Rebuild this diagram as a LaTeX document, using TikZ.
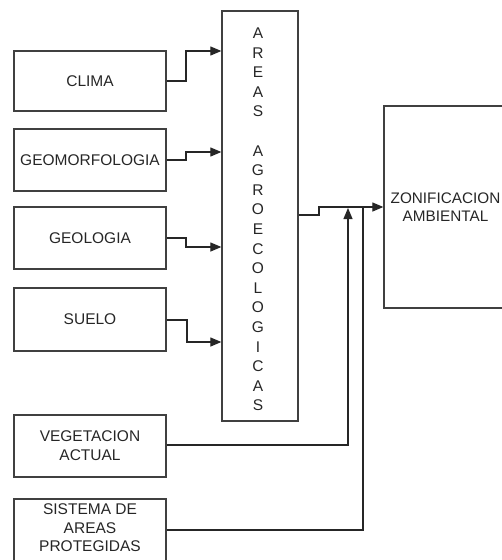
\documentclass[tikz,border=0pt]{standalone}
\usepackage{fontspec}
\setmainfont{Liberation Sans}
\usetikzlibrary{arrows.meta}
\begin{document}
\begin{tikzpicture}[x=1pt,y=-1pt,
  box/.style={draw=black!75,line width=1.3pt,rectangle,inner sep=0pt,align=center,font=\fontsize{15.5}{19}\selectfont,text=black!85},
  lbl/.style={align=center,text=black!85,inner sep=0pt},
  conn/.style={draw=black!85,line width=1.2pt},
  arr/.style={conn,-{Triangle[length=11pt,width=9pt]}}]
\useasboundingbox (0,0) rectangle (502,560);
\clip (0,0) rectangle (502,560);
\node[box,minimum width=152,minimum height=60] (clima) at (90,81) {CLIMA};
\node[box,minimum width=152,minimum height=62] (geomorf) at (90,160) {GEOMORFOLOGIA};
\node[box,minimum width=152,minimum height=62] (geol) at (90,238) {GEOLOGIA};
\node[box,minimum width=152,minimum height=63] (suelo) at (90,319.5) {SUELO};
\node[box,minimum width=152,minimum height=62] (veg) at (90,446) {VEGETACION\\ACTUAL};
\node[box,minimum width=152,minimum height=70] (sis) at (90,534) {};
\node[lbl,font=\fontsize{15.5}{18.5}\selectfont] (sistxt) at (90,528) {SISTEMA DE\\AREAS\\PROTEGIDAS};
\node[box,minimum width=76,minimum height=410] (areas) at (260,216) {};
\node[lbl,font=\fontsize{15.5}{19.6}\selectfont] (areastxt) at (258,219.5)
  {A\\R\\E\\A\\S\\~\\A\\G\\R\\O\\E\\C\\O\\L\\O\\G\\I\\C\\A\\S};
\node[box,minimum width=128,minimum height=202] (zonif) at (448,207) {};
\node[lbl,font=\fontsize{15.3}{18}\selectfont] (zoniftxt) at (445.5,207) {ZONIFICACION\\AMBIENTAL};
\draw[arr] (clima.east |- 0,81) -- (186,81) -- (186,51) -- (areas.west |- 0,51);
\draw[arr] (geomorf.east |- 0,160) -- (186,160) -- (186,152) -- (areas.west |- 0,152);
\draw[arr] (geol.east |- 0,238) -- (186,238) -- (186,247) -- (areas.west |- 0,247);
\draw[arr] (suelo.east |- 0,320) -- (187,320) -- (187,342) -- (areas.west |- 0,342);
\draw[arr] (areas.east |- 0,215) -- (319,215) -- (319,207) -- (zonif.west |- 0,207);
\coordinate (vegtop) at (348,208);
\draw[arr] (veg.east |- 0,445) -- (348,445) -- (vegtop);
\coordinate (sistop) at (363,207);
\draw[conn] (sis.east |- 0,530) -- (363,530) -- (sistop);
\end{tikzpicture}
\end{document}
